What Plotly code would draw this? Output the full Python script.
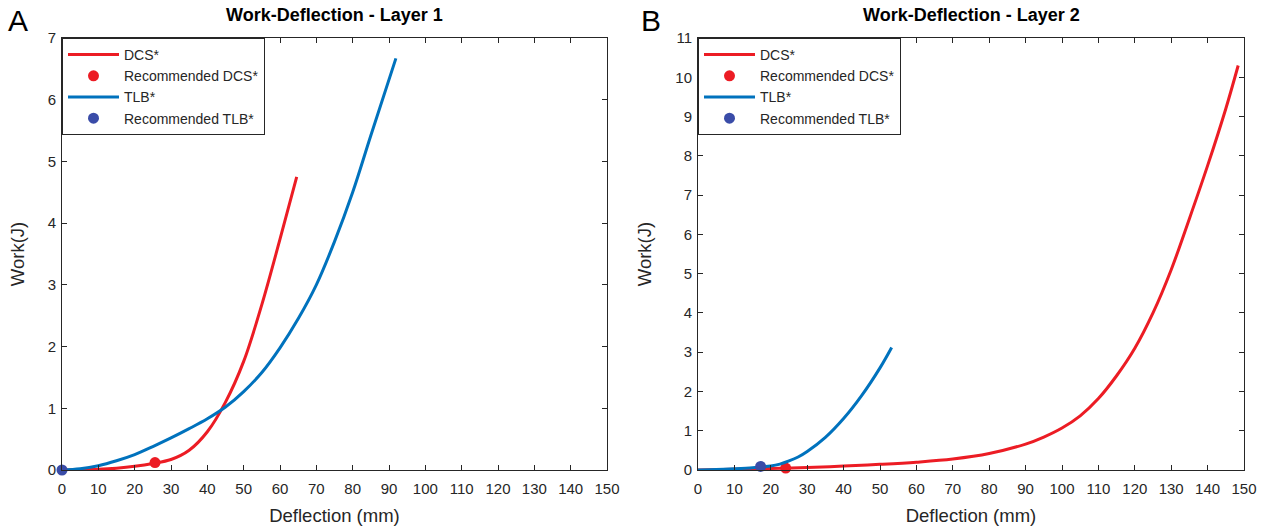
import plotly.graph_objects as go

# ---------------- Data ----------------
# Panel A: Layer 1
a_dcs_x = [0, 5, 10, 15, 20, 25, 30, 35, 40, 45, 50, 55, 60, 64.6]
a_dcs_y = [0, 0.004, 0.012, 0.03, 0.06, 0.105, 0.17, 0.32, 0.62, 1.1, 1.76, 2.68, 3.74, 4.75]
a_tlb_x = [0, 5, 10, 15, 20, 25, 30, 35, 40, 45, 50, 55, 60, 65, 70, 75, 80, 85, 91.9]
a_tlb_y = [0, 0.02, 0.07, 0.15, 0.25, 0.38, 0.52, 0.67, 0.83, 1.02, 1.27, 1.58, 1.98, 2.45, 3.00, 3.70, 4.50, 5.42, 6.67]
a_rec_dcs = ([25.6], [0.12])
a_rec_tlb = ([0], [0])

# Panel B: Layer 2
b_dcs_x = [0, 10, 20, 30, 40, 50, 60, 70, 80, 90, 95, 100, 105, 110, 115, 120, 125, 130, 135, 140, 145, 148.4]
b_dcs_y = [0, 0.02, 0.04, 0.065, 0.1, 0.145, 0.2, 0.28, 0.42, 0.66, 0.84, 1.07, 1.38, 1.82, 2.4, 3.1, 4.0, 5.1, 6.4, 7.75, 9.2, 10.3]
b_tlb_x = [0, 5, 10, 15, 17.2, 20, 22.5, 25, 27.5, 30, 35, 40, 45, 50, 53.2]
b_tlb_y = [0, 0.012, 0.03, 0.055, 0.075, 0.1, 0.15, 0.23, 0.33, 0.47, 0.83, 1.31, 1.90, 2.60, 3.12]
b_rec_dcs = ([24.1], [0.05])
b_rec_tlb = ([17.2], [0.09])

x_ticks = list(range(0, 151, 10))
a_y_ticks = list(range(0, 8))
b_y_ticks = list(range(0, 12))

names = ["DCS*", "Recommended DCS*", "TLB*", "Recommended TLB*"]
titles = ["Work-Deflection - Layer 1", "Work-Deflection - Layer 2"]
panel_letters = ["A", "B"]

# ---------------- Style ----------------
RED = "#EC1C24"
BLUE = "#0072BD"
DBLUE = "#3A4CA8"
AX = "#262626"
FONT = "Liberation Sans, Arial, Helvetica, sans-serif"

W, H = 1270, 529


def px(x):
    return x / W


def py(y):
    return 1 - y / H


fig = go.Figure()


def add_panel(xa, ya, legend, dcs_x, dcs_y, tlb_x, tlb_y, rec_dcs, rec_tlb):
    common = dict(xaxis=xa, yaxis=ya, legend=legend, cliponaxis=False)
    fig.add_trace(go.Scatter(x=dcs_x, y=dcs_y, mode="lines", name=names[0],
                             line=dict(color=RED, width=3, shape="spline", smoothing=1), **common))
    fig.add_trace(go.Scatter(x=rec_dcs[0], y=rec_dcs[1], mode="markers", name=names[1],
                             marker=dict(color=RED, size=11), **common))
    fig.add_trace(go.Scatter(x=tlb_x, y=tlb_y, mode="lines", name=names[2],
                             line=dict(color=BLUE, width=3, shape="spline", smoothing=1), **common))
    fig.add_trace(go.Scatter(x=rec_tlb[0], y=rec_tlb[1], mode="markers", name=names[3],
                             marker=dict(color=DBLUE, size=11), **common))


add_panel("x", "y", "legend", a_dcs_x, a_dcs_y, a_tlb_x, a_tlb_y, a_rec_dcs, a_rec_tlb)
add_panel("x2", "y2", "legend2", b_dcs_x, b_dcs_y, b_tlb_x, b_tlb_y, b_rec_dcs, b_rec_tlb)

xdomA = [px(62), px(607)]
xdomB = [px(698), px(1244)]
ydom = [py(470), py(38)]

axis_common = dict(showline=True, linecolor=AX, linewidth=1, mirror="ticks",
                   ticks="inside", ticklen=5, tickwidth=1, tickcolor=AX,
                   showgrid=False, zeroline=False, automargin=False,
                   tickfont=dict(family=FONT, size=15, color=AX))

xaxis_common = dict(axis_common, range=[0, 150], tickvals=x_ticks, ticklabelstandoff=5,
                    title=dict(text="Deflection (mm)", font=dict(family=FONT, size=18.5, color=AX), standoff=13))

ytitle = dict(text="Work(J)", font=dict(family=FONT, size=18.5, color=AX), standoff=18)

legend_common = dict(bgcolor="white", bordercolor=AX, borderwidth=1,
                     font=dict(family=FONT, size=14, color=AX), itemwidth=51,
                     xanchor="left", yanchor="top", tracegroupgap=0)

fig.update_layout(
    width=W, height=H,
    margin=dict(l=0, r=0, t=0, b=0),
    plot_bgcolor="white", paper_bgcolor="white",
    font=dict(family=FONT, color=AX),
    xaxis=dict(xaxis_common, domain=xdomA, anchor="y"),
    yaxis=dict(axis_common, domain=ydom, range=[0, 7], tickvals=a_y_ticks, anchor="x",
               ticklabelstandoff=2, title=ytitle),
    xaxis2=dict(xaxis_common, domain=xdomB, anchor="y2"),
    yaxis2=dict(axis_common, domain=ydom, range=[0, 11], tickvals=b_y_ticks, anchor="x2",
                ticklabelstandoff=2, title=ytitle),
    legend=dict(legend_common, x=xdomA[0], y=ydom[1]),
    legend2=dict(legend_common, x=xdomB[0], y=ydom[1]),
    showlegend=True,
)

annotations = []
for dom, t in zip([xdomA, xdomB], titles):
    annotations.append(dict(text="<b>" + t + "</b>", x=(dom[0] + dom[1]) / 2, y=py(15),
                            xref="paper", yref="paper", showarrow=False,
                            xanchor="center", yanchor="middle",
                            font=dict(family=FONT, size=18, color="black")))
for xpos, letter in zip([18, 651], panel_letters):
    annotations.append(dict(text=letter, x=px(xpos), y=py(20), xref="paper", yref="paper",
                            showarrow=False, xanchor="center", yanchor="middle",
                            font=dict(family=FONT, size=30, color="black")))
fig.update_layout(annotations=annotations)

fig.write_html("out.html", config={"displayModeBar": False},
               post_script="document.body.style.margin='0';")
